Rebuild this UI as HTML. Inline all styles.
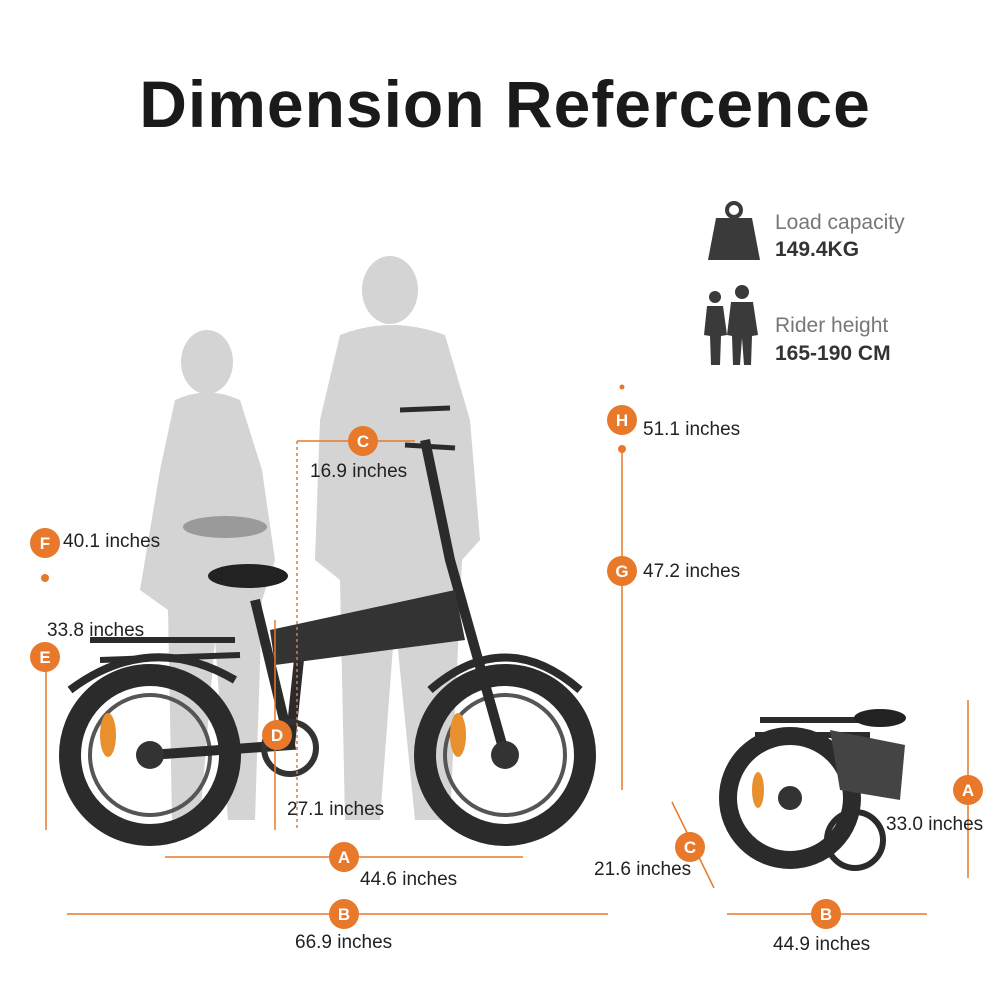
<!DOCTYPE html>
<html><head><meta charset="utf-8"><style>
html,body{margin:0;padding:0;background:#fff;}
body{width:1000px;height:1000px;position:relative;overflow:hidden;font-family:"Liberation Sans",sans-serif;}
</style></head><body>
<svg width="1000" height="1000" viewBox="0 0 1000 1000" xmlns="http://www.w3.org/2000/svg" style="position:absolute;left:0;top:0">
<text x="505" y="127" text-anchor="middle" font-family="Liberation Sans, sans-serif" font-weight="bold" font-size="66" letter-spacing="1" fill="#1a1a1a">Dimension Refercence</text>

<!-- silhouettes -->
<g fill="#d4d4d4">
  <ellipse cx="207" cy="362" rx="26" ry="32"/>
  <path d="M175 400 Q207 385 240 400 L262 470 L275 560 L262 600 L255 820 L228 820 L215 640 L200 820 L172 820 L168 610 L140 590 L160 470 Z"/>
  <ellipse cx="390" cy="290" rx="28" ry="34"/>
  <path d="M340 335 Q390 315 445 335 L470 420 L480 540 L462 560 L450 820 L415 820 L395 620 L380 820 L345 820 L340 580 L315 560 L320 420 Z"/>
</g>

<!-- icons -->
<g fill="#3a3a3a">
  <circle cx="734" cy="210" r="7" fill="none" stroke="#3a3a3a" stroke-width="4"/>
  <path d="M716 218 L752 218 L760 260 L708 260 Z"/>
  <circle cx="715" cy="297" r="6"/>
  <path d="M707 306 L723 306 L727 335 L721 336 L720 365 L711 365 L710 336 L704 335 Z"/>
  <circle cx="742" cy="292" r="7"/>
  <path d="M731 302 L753 302 L758 335 L752 336 L751 365 L744 365 L742 338 L740 365 L733 365 L732 336 L727 335 Z"/>
</g>
<text x="775" y="229" font-size="21" fill="#777">Load capacity</text>
<text x="775" y="256" font-size="21" font-weight="bold" fill="#333">149.4KG</text>
<text x="775" y="332" font-size="21" fill="#777">Rider height</text>
<text x="775" y="360" font-size="21" font-weight="bold" fill="#333">165-190 CM</text>

<!-- main bike -->
<g stroke="#2b2b2b" fill="none">
  <circle cx="150" cy="755" r="80" stroke-width="22"/>
  <circle cx="150" cy="755" r="60" stroke-width="4" stroke="#555"/>
  <circle cx="505" cy="755" r="80" stroke-width="22"/>
  <circle cx="505" cy="755" r="60" stroke-width="4" stroke="#555"/>
  <path d="M150 755 L290 745 L255 600 M290 745 L300 650 M505 755 L450 560 L425 440" stroke-width="10"/>
  <path d="M100 660 L240 655 M90 640 L235 640" stroke-width="6"/>
  <path d="M70 690 Q150 630 235 680" stroke-width="8"/>
  <path d="M430 690 Q505 625 580 690" stroke-width="8"/>
  <path d="M405 445 L455 448 M400 410 L450 408" stroke-width="5"/>
</g>
<path d="M270 630 L455 590 L465 640 L275 665 Z" fill="#333"/>
<ellipse cx="248" cy="576" rx="40" ry="12" fill="#222"/>
<ellipse cx="225" cy="527" rx="42" ry="11" fill="#9a9a9a"/>
<circle cx="290" cy="748" r="26" fill="none" stroke="#333" stroke-width="6"/>
<circle cx="150" cy="755" r="14" fill="#333"/>
<circle cx="505" cy="755" r="14" fill="#333"/>
<ellipse cx="108" cy="735" rx="8" ry="22" fill="#e8902e"/>
<ellipse cx="458" cy="735" rx="8" ry="22" fill="#e8902e"/>

<!-- folded bike -->
<g stroke="#2b2b2b" fill="none">
  <circle cx="790" cy="798" r="62" stroke-width="18"/>
  <circle cx="855" cy="840" r="28" stroke-width="6"/>
  <path d="M760 720 L880 720 M755 735 L870 735" stroke-width="6"/>
</g>
<path d="M830 730 L905 745 L900 800 L840 790 Z" fill="#444"/>
<ellipse cx="880" cy="718" rx="26" ry="9" fill="#222"/>
<ellipse cx="758" cy="790" rx="6" ry="18" fill="#e8902e"/>
<circle cx="790" cy="798" r="12" fill="#333"/>

<!-- dimension lines -->
<g stroke="#e8782a" stroke-width="1.5" fill="#e8782a">
  <line x1="46" y1="645" x2="46" y2="830"/>
  <line x1="622" y1="449" x2="622" y2="790"/>
  <line x1="297" y1="441" x2="415" y2="441"/>
  <line x1="297" y1="441" x2="297" y2="830" stroke-dasharray="3,3"/>
  <line x1="275" y1="620" x2="275" y2="830"/>
  <line x1="165" y1="857" x2="523" y2="857"/>
  <line x1="67" y1="914" x2="608" y2="914"/>
  <line x1="968" y1="700" x2="968" y2="878"/>
  <line x1="672" y1="802" x2="714" y2="888"/>
  <line x1="727" y1="914" x2="927" y2="914"/>
  <circle cx="45" cy="578" r="4" stroke="none"/>
  <circle cx="622" cy="387" r="2.5" stroke="none"/>
  <circle cx="622" cy="449" r="4" stroke="none"/>
</g>
<g fill="#e8782a">
  <circle cx="45" cy="543" r="15"/><circle cx="45" cy="657" r="15"/>
  <circle cx="622" cy="420" r="15"/><circle cx="622" cy="571" r="15"/>
  <circle cx="363" cy="441" r="15"/><circle cx="277" cy="735" r="15"/>
  <circle cx="344" cy="857" r="15"/><circle cx="344" cy="914" r="15"/>
  <circle cx="968" cy="790" r="15"/><circle cx="690" cy="847" r="15"/>
  <circle cx="826" cy="914" r="15"/>
</g>
<g fill="#fff" font-size="17" font-weight="bold" text-anchor="middle">
  <text x="45" y="549">F</text><text x="45" y="663">E</text>
  <text x="622" y="426">H</text><text x="622" y="577">G</text>
  <text x="363" y="447">C</text><text x="277" y="741">D</text>
  <text x="344" y="863">A</text><text x="344" y="920">B</text>
  <text x="968" y="796">A</text><text x="690" y="853">C</text>
  <text x="826" y="920">B</text>
</g>
<g fill="#222" font-size="19">
  <text x="63" y="547">40.1 inches</text>
  <text x="47" y="636">33.8 inches</text>
  <text x="643" y="435">51.1 inches</text>
  <text x="643" y="577">47.2 inches</text>
  <text x="310" y="477">16.9 inches</text>
  <text x="287" y="815">27.1 inches</text>
  <text x="360" y="885">44.6 inches</text>
  <text x="295" y="948">66.9 inches</text>
  <text x="886" y="830">33.0 inches</text>
  <text x="594" y="875">21.6 inches</text>
  <text x="773" y="950">44.9 inches</text>
</g>
</svg>
</body></html>
